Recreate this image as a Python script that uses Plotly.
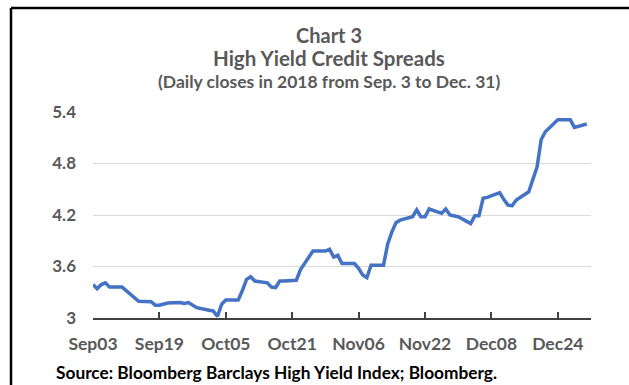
import pandas as pd
import plotly.graph_objects as go

# Trading-day dates (weekdays, holidays carry the prior close)
dates = pd.bdate_range("2018-09-03", "2018-12-31")

spreads = [
    # Sep
    3.39, 3.34, 3.39, 3.41, 3.36,
    3.36, 3.32, 3.28, 3.24, 3.195,
    3.19, 3.15, 3.15, 3.165, 3.175,
    3.18, 3.17, 3.18, 3.15, 3.12,
    # Oct
    3.09, 3.08, 3.02, 3.16, 3.21,
    3.21, 3.32, 3.45, 3.48, 3.43,
    3.41, 3.36, 3.355, 3.43, 3.43,
    3.44, 3.565, 3.635, 3.70, 3.78,
    3.78, 3.80, 3.71,
    # Nov
    3.73, 3.635,
    3.635, 3.58, 3.50, 3.47, 3.615,
    3.615, 3.86, 4.00, 4.11, 4.14,
    4.18, 4.26, 4.18, 4.18, 4.27,
    4.22, 4.27, 4.20, 4.19, 4.18,
    # Dec
    4.10, 4.19, 4.19, 4.395, 4.405,
    4.46, 4.38, 4.315, 4.31, 4.375,
    4.47, 4.62, 4.76, 5.08, 5.17,
    5.31, 5.31, 5.31, 5.31, 5.22,
    5.26,
]

x_tick_dates = ["2018-09-03", "2018-09-19", "2018-10-05", "2018-10-21",
                "2018-11-06", "2018-11-22", "2018-12-08", "2018-12-24"]
x_tick_labels = ["Sep03", "Sep19", "Oct05", "Oct21", "Nov06", "Nov22", "Dec08", "Dec24"]
y_tick_vals = [3, 3.6, 4.2, 4.8, 5.4]
y_tick_labels = ["3", "3.6", "4.2", "4.8", "5.4"]

FONT = "Lato, 'Open Sans', sans-serif"
GRAY = "#595959"

# Plot-area margins (pixels)
L, R, T, B = 93, 38, 112, 67
pw, ph = 629 - L - R, 385 - T - B
def px(xp):
    return (xp - L) / pw
def py(yp):
    return (385 - B - yp) / ph

fig = go.Figure()
fig.add_trace(go.Scatter(
    x=dates, y=spreads, mode="lines",
    line=dict(color="#4472C4", width=3.5),
    hoverinfo="skip", showlegend=False,
))

fig.update_layout(
    width=629, height=385,
    margin=dict(l=L, r=R, t=T, b=B),
    paper_bgcolor="white", plot_bgcolor="white",
    font=dict(family=FONT, color=GRAY),
    xaxis=dict(
        type="date",
        range=["2018-09-03", "2019-01-01"],
        tickvals=x_tick_dates, ticktext=x_tick_labels,
        showgrid=False, zeroline=False,
        showline=True, linecolor="#404040", linewidth=1.5,
        ticks="inside", ticklen=6, tickwidth=1.5, tickcolor="#404040",
        ticklabelstandoff=9,
        tickfont=dict(family=FONT, size=17.5, color=GRAY, weight="bold"),
    ),
    yaxis=dict(
        range=[3, 5.4],
        tickvals=y_tick_vals, ticktext=y_tick_labels,
        showgrid=True, gridcolor="#d9d9d9", gridwidth=1,
        zeroline=False, showline=False, ticks="",
        ticklabelstandoff=16,
        tickfont=dict(family=FONT, size=17, color=GRAY, weight="bold"),
    ),
)

texts = [
    ("<b>Chart 3</b>", 329, 35, 20, GRAY, "center"),
    ("<b>High Yield Credit Spreads</b>", 329, 58, 20.5, GRAY, "center"),
    ("<b>(Daily closes in 2018 from Sep. 3 to Dec. 31)</b>", 329, 81, 17.5, GRAY, "center"),
    ("<b>Source: Bloomberg Barclays High Yield Index; Bloomberg.</b>", 54, 372, 17.3, "black", "left"),
]
for text, xp, yp, size, color, anchor in texts:
    fig.add_annotation(
        text=text, xref="paper", yref="paper",
        x=px(xp), y=py(yp), showarrow=False,
        xanchor=anchor, yanchor="middle",
        font=dict(family=FONT, size=size, color=color),
    )

# Frame lines (top and left)
fig.add_shape(type="line", xref="paper", yref="paper",
              x0=px(11), y0=py(8), x1=px(640), y1=py(8),
              line=dict(color="black", width=2.5))
fig.add_shape(type="line", xref="paper", yref="paper",
              x0=px(11), y0=py(8), x1=px(11), y1=py(400),
              line=dict(color="black", width=2.5))

fig.write_html("out.html")
